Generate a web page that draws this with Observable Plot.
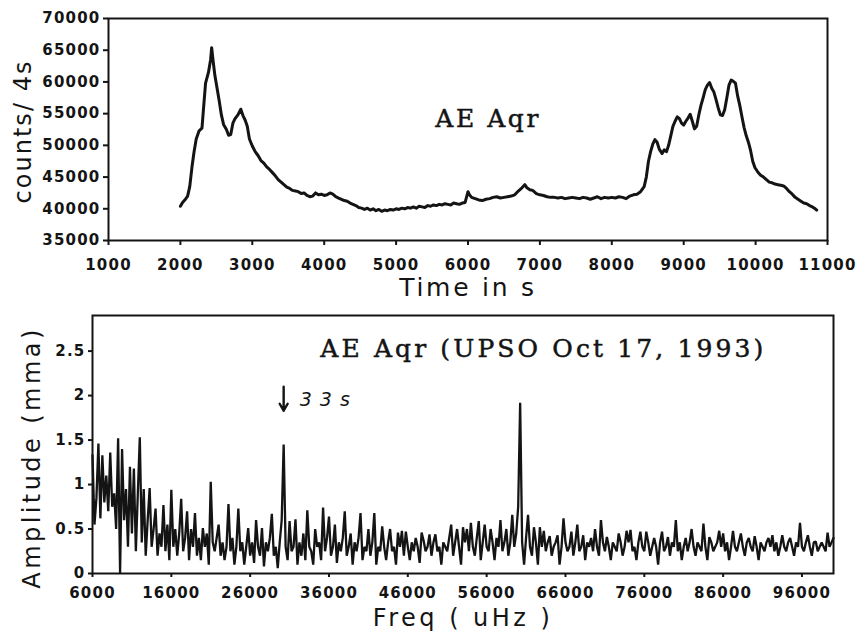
<!DOCTYPE html>
<html><head><meta charset="utf-8">
<script src="https://cdn.jsdelivr.net/npm/d3@7"></script>
<script src="https://cdn.jsdelivr.net/npm/@observablehq/plot@0.6"></script>
<style>
html,body{margin:0;padding:0;background:#fff;}
#wrap{position:relative;width:863px;height:634px;overflow:hidden;background:#fff;}
#top,#bottom{position:absolute;left:0;}
#top{top:0;} #bottom{top:300px;}
</style></head><body><div id="wrap"><div id="top"></div><div id="bottom"></div></div>
<script>
// ---- Light curve (top panel) ----
const timeS = [2000,2030,2070,2100,2130,2160,2190,2220,2260,2300,2330,2350,2390,2420,2435,2450,2480,2510,2540,2570,2600,2640,2670,2700,2730,2760,2800,2840,2870,2900,2930,2960,3000,3040,3080,3120,3160,3200,3240,3280,3320,3360,3400,3440,3480,3520,3560,3600,3640,3680,3720,3760,3800,3840,3880,3920,3960,4000,4040,4080,4120,4160,4200,4240,4280,4320,4360,4400,4440,4480,4520,4560,4600,4640,4680,4720,4760,4800,4840,4880,4920,4960,5000,5040,5080,5120,5160,5200,5240,5280,5320,5360,5400,5440,5480,5520,5560,5600,5640,5680,5720,5760,5800,5840,5880,5920,5960,6000,6020,6050,6100,6150,6200,6250,6300,6350,6400,6450,6500,6550,6600,6650,6700,6750,6790,6820,6860,6900,6950,7000,7050,7100,7150,7200,7250,7300,7350,7400,7450,7500,7550,7600,7650,7700,7750,7800,7850,7900,7950,8000,8050,8100,8150,8200,8250,8300,8350,8400,8450,8480,8510,8540,8570,8600,8630,8660,8700,8730,8760,8790,8820,8850,8880,8910,8940,8970,9000,9030,9060,9090,9120,9150,9180,9210,9240,9270,9300,9330,9360,9390,9420,9450,9480,9510,9540,9570,9600,9630,9660,9690,9720,9750,9780,9810,9840,9870,9900,9930,9960,9990,10030,10070,10110,10150,10190,10230,10270,10310,10350,10390,10430,10470,10510,10550,10590,10630,10670,10710,10750,10790,10830,10850];
const countsPer4s = [40400,41000,41500,42000,43500,46500,49000,51000,52300,52700,57000,59800,61500,63500,65400,63800,61000,59000,57000,54800,53300,52500,51600,51700,53500,54200,54800,55700,54700,54000,53000,51000,49900,49000,48400,47600,47200,46600,46200,45700,45200,44600,44200,43800,43400,43200,42900,42800,42700,42400,42500,42100,41900,42000,42500,42200,42300,42100,42200,42500,42300,41900,41700,41500,41300,41200,40900,40700,40500,40200,40100,39900,40100,39800,40000,39700,39900,39600,39800,39700,39900,39800,40000,39900,40100,40000,40200,40100,40300,40100,40400,40300,40200,40500,40400,40600,40500,40700,40600,40800,40700,40600,40900,40800,40700,40900,41000,42700,42200,41800,41600,41400,41300,41500,41600,41800,41900,41700,41800,41900,42000,42200,42800,43300,43800,43300,43000,42900,42400,42200,42100,41900,41800,41800,41700,41800,41600,41700,41800,41700,41600,41800,41700,41500,41700,41900,41600,41800,41700,41800,41700,41900,41800,41600,42000,42200,42300,42700,43500,45000,47500,49000,50200,50900,50500,49400,48700,49300,49000,50000,51500,53000,53800,54500,54200,53500,53200,53800,54300,54900,53800,52600,53000,54800,56300,57500,58800,59500,59900,59000,58400,57200,55900,54800,54700,55600,57500,59500,60300,60100,59800,57800,56300,54500,52800,51500,50500,49200,47500,46500,45800,45300,45000,44600,44200,44100,43900,43800,43700,43600,43200,42700,42300,41800,41500,41200,40900,40800,40500,40300,40000,39800];
const timeTicks = [1000,2000,3000,4000,5000,6000,7000,8000,9000,10000,11000];
const countTicks = [35000,40000,45000,50000,55000,60000,65000,70000];

// ---- Amplitude spectrum (bottom panel), 250 uHz grid from 6000 uHz ----
const freqStartUHz = 6000;
const freqStepUHz = 250;
const amplitudeMma = [
1.33,0.55,0.85,1.46,0.62,1.33,0.8,1.1,0.7,1.36,
0.75,0.9,0.5,1.52,0.0,1.4,0.6,0.95,0.3,1.2,
0.45,1.18,0.25,0.9,1.53,0.35,0.95,0.2,0.6,0.96,
0.3,0.5,0.73,0.2,0.45,0.3,0.77,0.25,0.55,0.15,
0.94,0.3,0.5,0.2,0.45,0.84,0.25,0.4,0.7,0.15,
0.5,0.3,0.68,0.2,0.4,0.15,0.51,0.3,0.45,0.1,
1.03,0.35,0.25,0.4,0.55,0.2,0.35,0.15,0.3,0.78,
0.25,0.4,0.1,0.3,0.73,0.25,0.35,0.1,0.3,0.51,
0.2,0.35,0.12,0.6,0.3,0.2,0.51,0.08,0.35,0.25,
0.4,0.67,0.2,0.3,0.06,0.35,0.6,1.45,0.3,0.15,
0.59,0.25,0.3,0.61,0.1,0.35,0.2,0.45,0.15,0.71,
0.3,0.25,0.1,0.5,0.3,0.35,0.15,0.74,0.25,0.4,
0.64,0.2,0.3,0.55,0.12,0.35,0.25,0.4,0.7,0.2,
0.3,0.45,0.1,0.35,0.25,0.4,0.68,0.15,0.3,0.25,
0.5,0.2,0.35,0.68,0.1,0.3,0.25,0.53,0.3,0.15,
0.35,0.5,0.25,0.3,0.1,0.46,0.3,0.48,0.2,0.47,
0.3,0.15,0.35,0.25,0.4,0.3,0.12,0.46,0.37,0.25,
0.3,0.44,0.2,0.35,0.44,0.25,0.3,0.1,0.35,0.3,
0.25,0.4,0.55,0.2,0.35,0.5,0.3,0.1,0.52,0.35,
0.5,0.25,0.57,0.3,0.2,0.4,0.59,0.15,0.35,0.55,
0.3,0.25,0.5,0.35,0.15,0.4,0.3,0.6,0.25,0.35,
0.5,0.2,0.35,0.66,0.3,0.45,0.75,1.92,0.35,0.1,
0.4,0.66,0.3,0.2,0.52,0.35,0.1,0.52,0.3,0.48,
0.25,0.35,0.42,0.2,0.3,0.35,0.43,0.1,0.3,0.62,
0.35,0.25,0.3,0.47,0.2,0.35,0.55,0.25,0.3,0.43,
0.15,0.35,0.3,0.4,0.25,0.5,0.3,0.2,0.6,0.35,
0.25,0.41,0.3,0.15,0.35,0.3,0.25,0.45,0.35,0.2,
0.3,0.48,0.35,0.49,0.25,0.3,0.15,0.35,0.47,0.3,
0.25,0.47,0.35,0.2,0.3,0.4,0.3,0.1,0.35,0.47,
0.25,0.3,0.41,0.2,0.35,0.3,0.6,0.25,0.35,0.15,
0.3,0.4,0.25,0.35,0.5,0.3,0.2,0.35,0.3,0.25,
0.56,0.3,0.15,0.41,0.35,0.25,0.3,0.35,0.48,0.3,
0.45,0.25,0.35,0.15,0.3,0.48,0.3,0.25,0.35,0.45,
0.3,0.2,0.35,0.4,0.3,0.25,0.42,0.3,0.15,0.35,
0.3,0.25,0.35,0.4,0.3,0.43,0.25,0.35,0.2,0.3,
0.43,0.3,0.25,0.35,0.4,0.3,0.2,0.35,0.3,0.57,
0.3,0.25,0.35,0.43,0.3,0.2,0.35,0.36,0.25,0.3,
0.35,0.3,0.25,0.46,0.3,0.35,0.4];
const freqTicks = [6000,16000,26000,36000,46000,56000,66000,76000,86000,96000];
const ampTicks = [0,0.5,1,1.5,2,2.5];

const INK = "#141414";
const SANS = "'DejaVu Sans', sans-serif";
const TITLE_FONT = "'DejaVu Serif', serif";
const lightCurve = timeS.map((t, i) => ({t, c: countsPer4s[i]}));
const spectrum = amplitudeMma.map((a, i) => ({f: freqStartUHz + i * freqStepUHz, a}));

const topPlot = Plot.plot({
  width: 863, height: 300,
  marginLeft: 108, marginRight: 36, marginTop: 18, marginBottom: 60,
  x: {domain: [1000, 11000]},
  y: {domain: [35000, 70000]},
  style: {fontFamily: SANS, fontSize: "15px", color: INK, background: "white", overflow: "visible"},
  marks: [
    Plot.frame({stroke: INK, strokeWidth: 2}),
    Plot.axisX({ticks: timeTicks, tickFormat: d => String(d), tickSize: 5, tickPadding: 14, fontWeight: "bold", fontSize: 15, label: null, strokeWidth: 2}),
    Plot.axisY({ticks: countTicks, tickFormat: d => String(d), tickSize: 5, tickPadding: 3, fontWeight: "bold", fontSize: 15, label: null, strokeWidth: 2}),
    Plot.line(lightCurve, {x: "t", y: "c", stroke: INK, strokeWidth: 3, strokeLinejoin: "round", strokeLinecap: "round"}),
    Plot.text([{x: 6280, y: 52890, s: "AE Aqr"}], {x: "x", y: "y", text: "s", fontFamily: TITLE_FONT, fontSize: 25, lineAnchor: "bottom", fill: INK, stroke: INK, strokeWidth: 0.5}),
    Plot.text(["counts/ 4s"], {frameAnchor: "left", textAnchor: "middle", lineAnchor: "middle", dx: -85, dy: 2, rotate: -90, fontSize: 24, fill: INK}),
    Plot.text(["Time in s"], {frameAnchor: "bottom", textAnchor: "middle", lineAnchor: "middle", dy: 47, fontSize: 25, fill: INK})
  ]
});

const bottomPlot = Plot.plot({
  width: 863, height: 334,
  marginLeft: 92, marginRight: 30, marginTop: 15, marginBottom: 61,
  x: {domain: [6000, 100000]},
  y: {domain: [0, 2.9]},
  style: {fontFamily: SANS, fontSize: "15px", color: INK, background: "white", overflow: "visible"},
  marks: [
    Plot.frame({stroke: INK, strokeWidth: 2}),
    Plot.axisX({ticks: freqTicks, tickFormat: d => String(d), tickSize: 4, tickPadding: 10, fontWeight: "bold", fontSize: 15, label: null, strokeWidth: 2}),
    Plot.axisY({ticks: ampTicks, tickFormat: d => String(d), tickSize: 4, tickPadding: 3, fontWeight: "bold", fontSize: 15, label: null, strokeWidth: 2}),
    Plot.line(spectrum, {x: "f", y: "a", stroke: INK, strokeWidth: 2.3, strokeLinejoin: "miter"}),
    Plot.text([{x: 34900, y: 2.43, s: "AE Aqr (UPSO Oct 17, 1993)"}], {x: "x", y: "y", text: "s", textAnchor: "start", fontFamily: TITLE_FONT, fontSize: 25, lineAnchor: "bottom", fill: INK, stroke: INK, strokeWidth: 0.5}),
    Plot.arrow([{x1: 30250, y1: 2.1, x2: 30250, y2: 1.83}], {x1: "x1", y1: "y1", x2: "x2", y2: "y2", stroke: INK, strokeWidth: 2.4, headLength: 9}),
    Plot.text([{x: 32300, y: 1.88, s: "33s"}], {x: "x", y: "y", text: "s", textAnchor: "start", lineAnchor: "bottom", fontFamily: SANS, fontStyle: "italic", fontSize: 19, fill: INK}),
    Plot.text(["Amplitude (mma)"], {frameAnchor: "left", textAnchor: "middle", lineAnchor: "middle", dx: -60, dy: 13, rotate: -90, fontSize: 24, fill: INK}),
    Plot.text(["Freq ( uHz )"], {frameAnchor: "bottom", textAnchor: "middle", lineAnchor: "middle", dy: 45, fontSize: 24, fill: INK})
  ]
});

document.getElementById("top").appendChild(topPlot);
document.getElementById("bottom").appendChild(bottomPlot);

// widen texts to match the wide typefaces of the original figure
const targetWidths = {"AE Aqr": 103, "AE Aqr (UPSO Oct 17, 1993)": 443, "counts/ 4s": 142, "Time in s": 135, "Amplitude (mma)": 259, "Freq ( uHz )": 177, "33s": 50};
for (const svg of [topPlot, bottomPlot]) {
  d3.select(svg).selectAll("g").each(function() {
    const lab = this.getAttribute("aria-label") || "";
    if (lab.indexOf("tick label") >= 0) {
      d3.select(this).attr("font-weight", "bold").attr("font-size", 15);
      d3.select(this).selectAll("text").style("letter-spacing", "1.2px");
    }
  });
  d3.select(svg).selectAll("text").each(function() {
    const t = this.textContent;
    if (targetWidths[t] != null) {
      const len = this.getComputedTextLength();
      const n = t.length;
      const ls = (targetWidths[t] - len) / Math.max(1, n - 1);
      if (ls > 0) this.style.letterSpacing = ls.toFixed(2) + "px";
    }
  });
}
</script></body></html>
